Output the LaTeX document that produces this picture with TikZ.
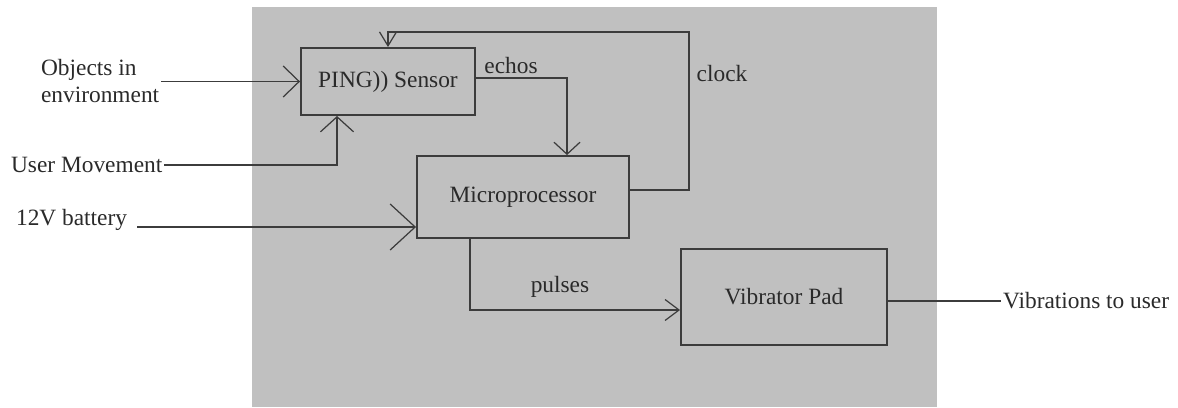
\documentclass[tikz,border=0pt]{standalone}
\usepackage{fontspec}
\setmainfont{Liberation Serif}
\usepackage{tikz}
\usetikzlibrary{arrows.meta,positioning,calc}
\definecolor{panelg}{HTML}{C0C0C0}
\definecolor{inkg}{HTML}{3C3C3C}
\definecolor{textg}{HTML}{2A2A2A}
\tikzset{
  every picture/.append style={font=\fontsize{13.3}{15.4}\selectfont},
  blk/.style   = {draw=inkg, line width=1.1pt, fill=panelg, text=textg,
                  inner sep=0pt, align=center},
  wire/.style  = {draw=inkg, line width=1.1pt},
  arr/.style 2 args = {wire, -{Straight Barb[length=#1, width=#2, line width=0.7pt]}},
  lab/.style   = {text=textg, inner sep=1pt, align=left},
}

\begin{document}
\begin{tikzpicture}[x=0.02cm, y=-0.02cm]
  \useasboundingbox (0,0) rectangle (1178,407);
  \fill[panelg] (252,7) rectangle (937,407);

  % blocks
  \node[blk, minimum width=3.48cm, minimum height=1.34cm] (sensor) at (388,81.5) {PING)) Sensor};
  \node[blk, minimum width=4.24cm, minimum height=1.64cm] (micro) at (523,197) {Microprocessor};
  \node[blk, minimum width=4.12cm, minimum height=1.92cm] (vibpad) at (784,297) {Vibrator Pad};

  % outside labels
  \node[lab, anchor=west] (objects) at (39,81) {Objects in\\environment};
  \node[lab, anchor=west] (usermove) at (9,165) {User Movement};
  \node[lab, anchor=west] (battery) at (14,220) {12V battery};
  \node[lab, anchor=west] (vibout) at (1001,301) {Vibrations to user};

  % inputs
  \draw[arr={3.2mm}{6.2mm}] (objects.east |- sensor.west) -- (sensor.west);
  \coordinate (movein) at ([xshift=-1.02cm]sensor.south);
  \draw[arr={3mm}{6.6mm}] (usermove.east) -| (movein);
  \coordinate (battin) at ([yshift=-0.6cm]micro.west);
  \draw[arr={5mm}{9.2mm}] ([xshift=0.16cm]battery.east |- battin) -- (battin);

  % signals
  \draw[arr={2.4mm}{5.2mm}] ([yshift=0.07cm]sensor.east) -| ([xshift=0.88cm]micro.north);
  \node[lab] (echos) at (511,66) {echos};
  \coordinate (clkcorner) at (689,32);
  \draw[arr={2.8mm}{3.4mm}] ([yshift=0.14cm]micro.east) -| (clkcorner) -| (sensor.north);
  \node[lab] (clock) at (722,73) {clock};
  \draw[arr={2.8mm}{4.2mm}] ([xshift=-1.06cm]micro.south) |- ([yshift=-0.26cm]vibpad.west);
  \node[lab] (pulses) at (560,287) {pulses};
  \draw[wire] (vibpad.east |- vibout.west) -- (vibout.west);
\end{tikzpicture}
\end{document}
